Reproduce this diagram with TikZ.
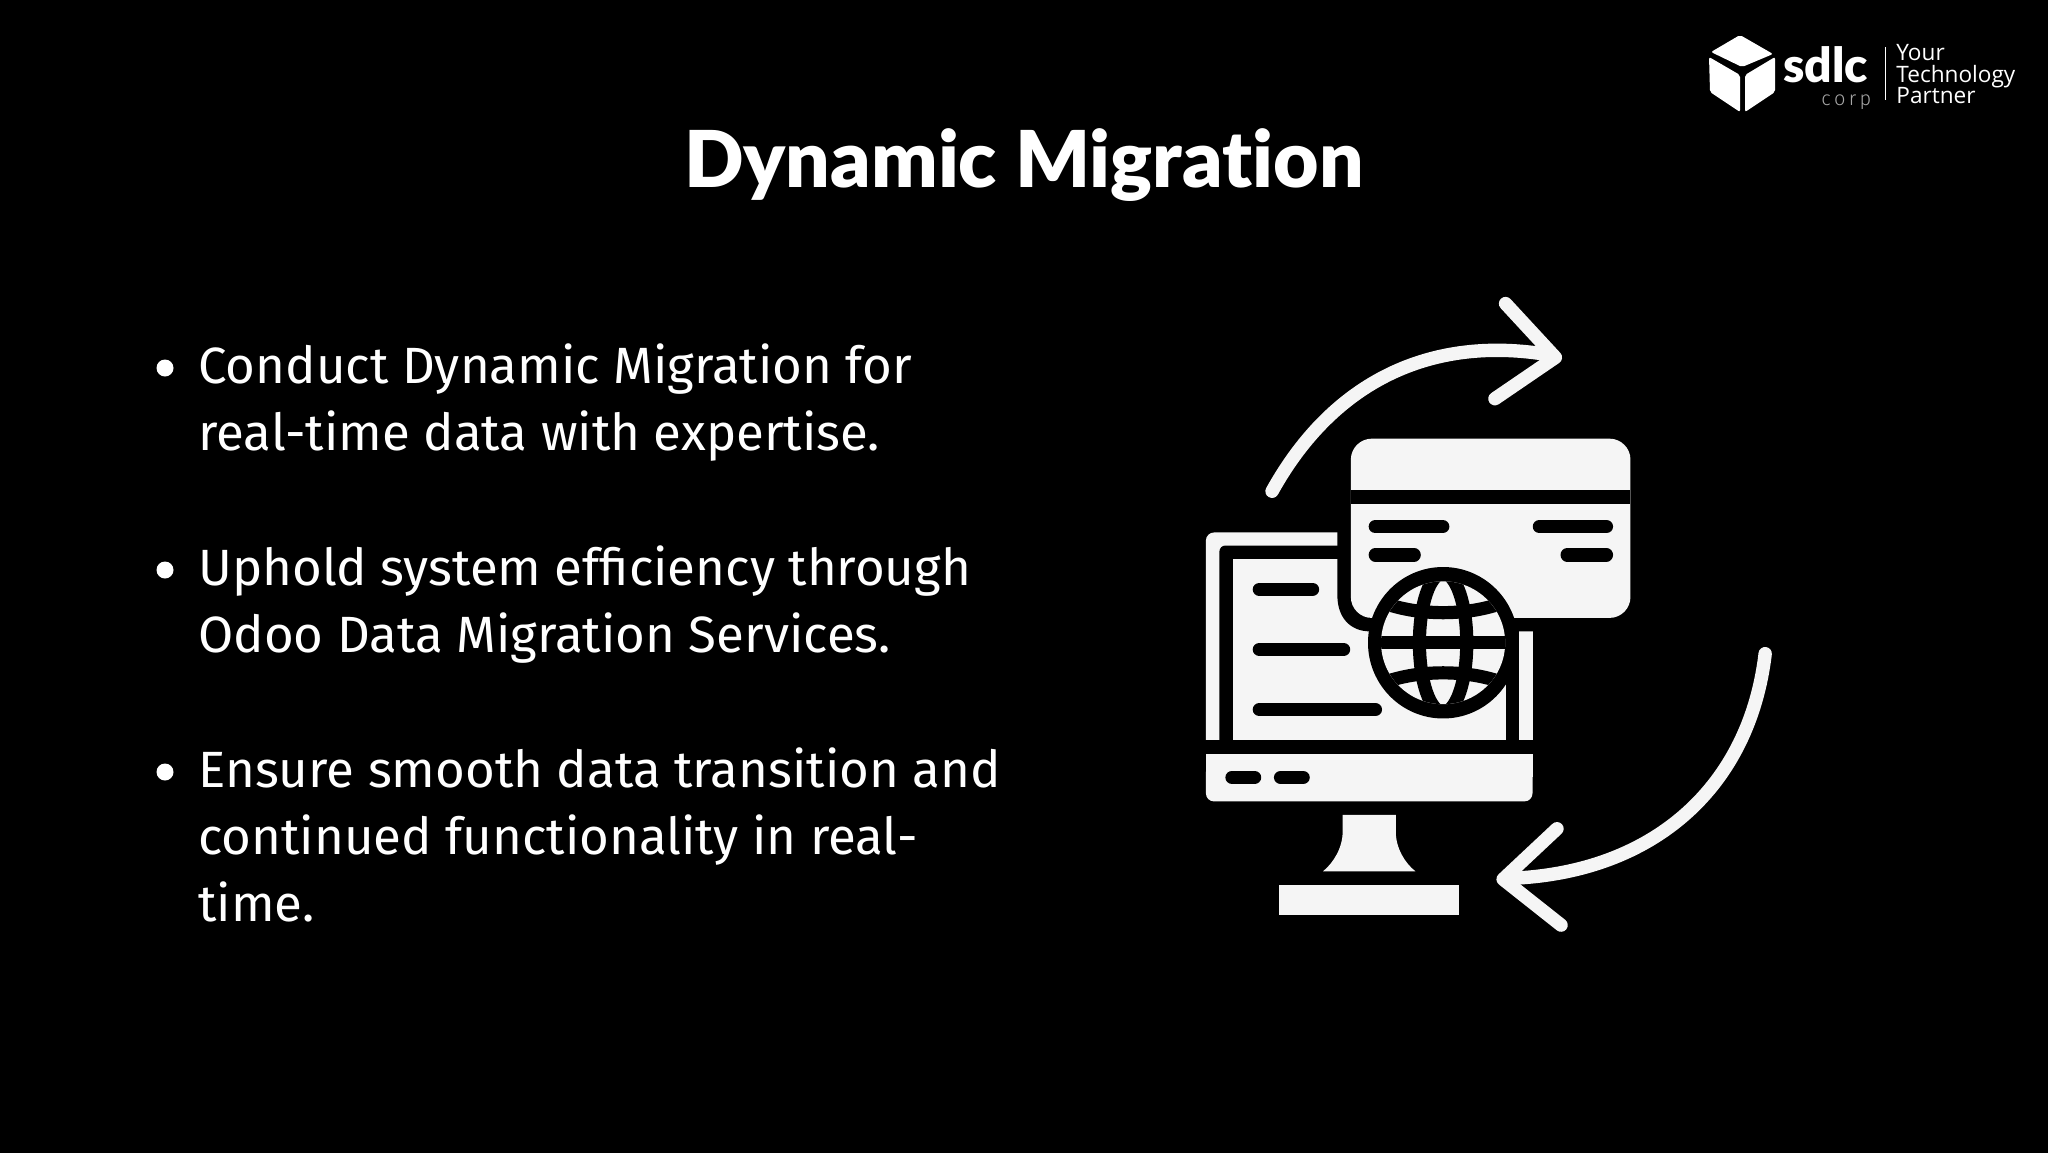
\documentclass[tikz,border=0pt]{standalone}
\usepackage{fontspec}
\setmainfont{Fira Sans}
\newfontfamily\titlefont[Ligatures=NoCommon]{Lato Black}
\newfontfamily\logofont{Open Sans}
\newfontfamily\corpfont{Fira Sans Light}
\definecolor{iconwhite}{HTML}{F5F5F5}
\newcommand{\slotbar}[3]{ \draw[black, line width=6.7pt, line cap=round] ( #1 , #3 ) -- ( #2 , #3 );}
\begin{document}
\begin{tikzpicture}[x=0.5pt,y=-0.5pt,
    bodytext/.style={anchor=base west, inner sep=0pt, text=white, font=\fontsize{25.5}{30}\selectfont},
    logotext/.style={anchor=base west, inner sep=0pt, text=white, font=\logofont\fontsize{11.3}{14}\selectfont},
    arrowline/.style={draw=iconwhite, line width=6.7pt, line cap=round, line join=round},
    globeline/.style={draw=black, line width=6.6pt}]
        \useasboundingbox (0,0) rectangle (2048,1152);
        \fill[black] (-6,-6) rectangle (2054,1158);

        % title
        \node[anchor=base, inner sep=0pt, text=white, font=\titlefont\fontsize{39.2}{46}\selectfont] (title) at (1024,187) {Dynamic Migration};

        % bullets
        \node[bodytext] (line1) at (198,383) {Conduct Dynamic Migration for};
        \node[bodytext] (line2) at (198,450) {real-time data with expertise.};
        \node[bodytext] (line3) at (198,585) {Uphold system efficiency through};
        \node[bodytext] (line4) at (198,652) {Odoo Data Migration Services.};
        \node[bodytext] (line5) at (198,787) {Ensure smooth data transition and};
        \node[bodytext] (line6) at (198,854) {continued functionality in real-};
        \node[bodytext] (line7) at (198,921) {time.};
        \fill[white] (165,368) circle (8.5);
        \fill[white] (165,570) circle (8.5);
        \fill[white] (165,772) circle (8.5);

        % icon
        \begin{scope}[shift={(1170,280)},x=0.2041pt,y=-0.2104pt]
            % arrows
            \draw[arrowline] (250,502) .. controls (400,240) and (640,130) .. (930,178);
            \draw[arrowline] (822,56) -- (944,184) -- (796,282);
            \draw[arrowline] (1458,888) .. controls (1420,1200) and (1190,1410) .. (830,1422);
            \draw[arrowline] (948,1304) -- (816,1424) -- (958,1533);

            % monitor
            \fill[iconwhite, rounded corners=4pt] (88,1120) -- (88,600) -- (500,600) -- (500,1120) -- cycle;
            \fill[black, rounded corners=3pt] (121,1120) -- (121,631) -- (600,631) -- (600,1120) -- cycle;
            \fill[iconwhite] (154,662) rectangle (822,1094);
            \fill[iconwhite] (855,835) rectangle (888,1094);
            \fill[black] (80,1094) rectangle (900,1126);
            \fill[black] (410,590) -- (410,750) .. controls (410,800) and (440,835) .. (490,835) -- (1000,835) -- (1000,590) -- cycle;
            \fill[iconwhite, rounded corners=4pt] (88,1150) rectangle (888,1239);
            \fill[iconwhite] (88,1126) rectangle (888,1180);
            \fill[iconwhite] (423,1271) -- (553,1271) -- (553,1310) .. controls (553,1350) and (575,1385) .. (601,1405) -- (375,1405) .. controls (400,1385) and (423,1350) .. (423,1310) -- cycle;
            \fill[iconwhite] (267,1437) rectangle (709,1509);

            % card
            \fill[iconwhite, rounded corners=10.5pt] (443,377) rectangle (1128,803);
            \fill[black] (443,500) rectangle (1128,533);

            % slots
            \slotbar{503}{668}{586}
            \slotbar{905}{1069}{586}
            \slotbar{503}{598}{653}
            \slotbar{973}{1069}{653}
            \slotbar{219}{349}{735}
            \slotbar{219}{425}{878}
            \slotbar{219}{503}{1021}
            \slotbar{152}{207}{1182}
            \slotbar{271}{326}{1182}

            % globe
            \fill[black] (669,862) ellipse [x radius=184, y radius=180];
            \begin{scope}
                \clip (669,862) ellipse [x radius=152, y radius=146];
                \fill[iconwhite] (500,700) rectangle (840,1020);
                \draw[globeline] (500,862) -- (840,862);
                \draw[globeline] (510,762) .. controls (600,800) and (738,800) .. (828,762);
                \draw[globeline] (510,962) .. controls (600,924) and (738,924) .. (828,962);
                \draw[globeline] (669,862) ellipse [x radius=58, y radius=165];
            \end{scope}
        \end{scope}

        % logo
        \fill[white, rounded corners=1pt] (1711,52) -- (1740,35) -- (1773,54) -- (1742,67) -- cycle;
        \fill[white, rounded corners=1pt] (1709,57) -- (1740,75) -- (1740,112) -- (1710,92) -- cycle;
        \fill[white, rounded corners=1pt] (1745,75) -- (1775,57) -- (1775,92) -- (1745,112) -- cycle;
        \node[anchor=base west, inner sep=0pt, text=white, font=\titlefont\fontsize{24}{26}\selectfont] (sdlc) at (1783,82) {sdlc};
        \node[anchor=base west, inner sep=0pt, text=white!65!black, font=\corpfont\fontsize{10}{12}\selectfont] (corp) at (1821,105) {c\,o\,r\,p};
        \draw[white, line width=0.5pt] (1885,47) -- (1885,100);
        \node[logotext] (your) at (1896,60) {Your};
        \node[logotext] (technology) at (1896,82) {Technology};
        \node[logotext] (partner) at (1896,103) {Partner};
\end{tikzpicture}
\end{document}
